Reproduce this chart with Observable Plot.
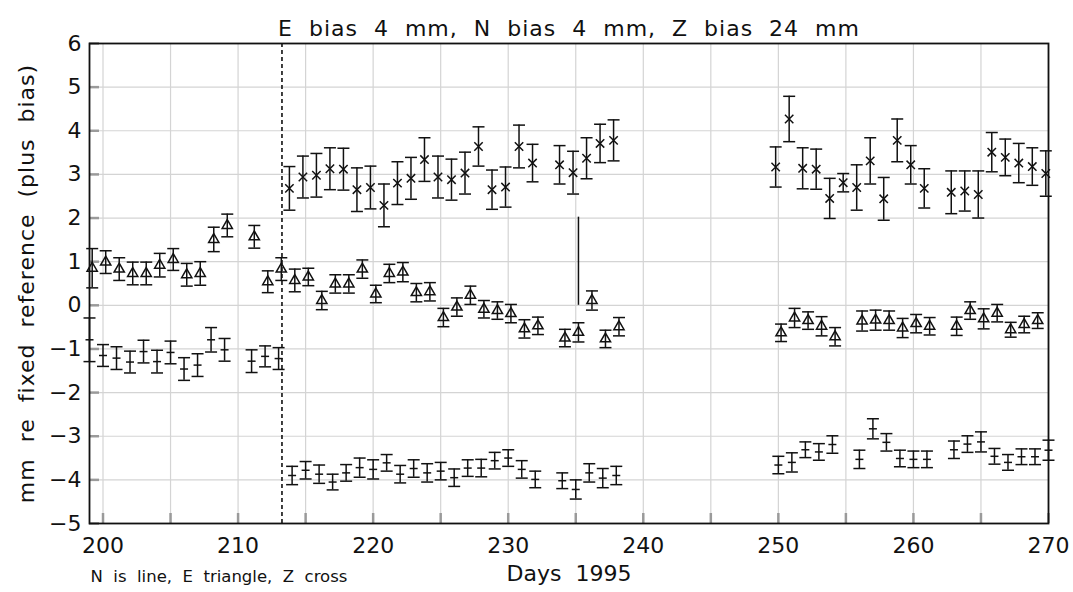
<!DOCTYPE html>
<html>
<head>
<meta charset="utf-8">
<script src="https://cdn.jsdelivr.net/npm/d3@7"></script>
<script src="https://cdn.jsdelivr.net/npm/@observablehq/plot@0.6"></script>
<style>
  html, body { margin: 0; padding: 0; background: #fff; }
  svg text { white-space: pre; }
</style>
</head>
<body>
<div id="chart"></div>
<script>
// ---- data ----
const titleText = "E  bias  4  mm,  N  bias  4  mm,  Z  bias  24  mm";
const xLabel = "Days  1995";
const yLabel = "mm  re  fixed  reference  (plus  bias)";
const caption = "N  is  line,  E  triangle,  Z  cross";

const xTicks = [200, 210, 220, 230, 240, 250, 260, 270];
const yTicks = [-5, -4, -3, -2, -1, 0, 1, 2, 3, 4, 5, 6];
const gridDays = [200, 205, 210, 215, 220, 225, 230, 235, 240, 245, 250, 255, 260, 265, 270];

// N (line marker)
const nDays = [199,200,201,202,203,204,205,206,207,208,209,211,212,213,214,215,216,217,218,219,220,221,222,223,224,225,226,227,228,229,230,231,232,234,235,236,237,238,250,251,252,253,254,256,257,258,259,260,261,263,264,265,266,267,268,269,270];
const nVal  = [-0.79,-1.15,-1.21,-1.30,-1.06,-1.29,-1.08,-1.46,-1.37,-0.79,-1.02,-1.28,-1.17,-1.22,-3.90,-3.78,-3.87,-4.05,-3.84,-3.72,-3.76,-3.61,-3.87,-3.74,-3.84,-3.80,-3.95,-3.73,-3.73,-3.56,-3.50,-3.76,-3.99,-4.02,-4.22,-3.84,-3.96,-3.90,-3.66,-3.60,-3.31,-3.36,-3.19,-3.53,-2.83,-3.14,-3.51,-3.53,-3.53,-3.31,-3.18,-3.13,-3.46,-3.60,-3.47,-3.47,-3.32];
const nErr  = [0.50,0.25,0.26,0.25,0.26,0.26,0.26,0.26,0.26,0.28,0.26,0.26,0.24,0.25,0.21,0.20,0.21,0.18,0.19,0.22,0.22,0.19,0.20,0.20,0.21,0.20,0.20,0.19,0.20,0.19,0.19,0.20,0.19,0.18,0.22,0.21,0.22,0.21,0.20,0.22,0.18,0.19,0.20,0.21,0.23,0.20,0.19,0.19,0.19,0.20,0.19,0.23,0.18,0.18,0.18,0.18,0.23];

// E (triangle marker)
const eDays = [199,200,201,202,203,204,205,206,207,208,209,211,212,213,214,215,216,217,218,219,220,221,222,223,224,225,226,227,228,229,230,231,232,234,235,236,237,238,250,251,252,253,254,256,257,258,259,260,261,263,264,265,266,267,268,269];
const eVal  = [0.85,0.99,0.83,0.73,0.73,0.92,1.05,0.70,0.73,1.51,1.83,1.57,0.54,0.83,0.57,0.65,0.11,0.49,0.49,0.83,0.26,0.73,0.76,0.29,0.31,-0.28,-0.04,0.23,-0.09,-0.12,-0.19,-0.54,-0.47,-0.75,-0.62,0.11,-0.77,-0.49,-0.63,-0.29,-0.35,-0.48,-0.72,-0.36,-0.34,-0.35,-0.52,-0.42,-0.48,-0.48,-0.12,-0.31,-0.18,-0.56,-0.44,-0.35];
const eErr  = [0.45,0.26,0.26,0.26,0.26,0.27,0.25,0.26,0.27,0.28,0.26,0.26,0.25,0.26,0.26,0.20,0.21,0.21,0.21,0.21,0.20,0.21,0.22,0.21,0.21,0.21,0.21,0.21,0.20,0.20,0.21,0.21,0.20,0.20,0.22,0.22,0.20,0.21,0.20,0.22,0.20,0.22,0.21,0.23,0.23,0.22,0.22,0.21,0.20,0.21,0.20,0.23,0.20,0.17,0.19,0.18];

// Z (cross marker)
const zDays = [214,215,216,217,218,219,220,221,222,223,224,225,226,227,228,229,230,231,232,234,235,236,237,238,250,251,252,253,254,255,256,257,258,259,260,261,263,264,265,266,267,268,269,270];
const zVal  = [2.68,2.94,2.98,3.13,3.12,2.65,2.70,2.29,2.80,2.91,3.34,2.94,2.88,3.03,3.64,2.65,2.71,3.64,3.26,3.22,3.04,3.37,3.71,3.78,3.17,4.27,3.14,3.12,2.45,2.81,2.70,3.31,2.44,3.78,3.22,2.68,2.59,2.62,2.54,3.51,3.39,3.26,3.18,3.02];
const zErr  = [0.50,0.48,0.50,0.48,0.48,0.50,0.49,0.49,0.49,0.48,0.50,0.48,0.47,0.48,0.45,0.45,0.46,0.49,0.43,0.44,0.49,0.47,0.44,0.47,0.46,0.52,0.47,0.46,0.46,0.21,0.52,0.53,0.49,0.49,0.44,0.45,0.49,0.46,0.54,0.45,0.42,0.45,0.43,0.52];

// reference-change marker and isolated spike
const changeDay = [213.25];
const spikeDay = [235.2];
const spikeFrom = [0];
const spikeTo = [2.02];

// ---- build tables ----
const table = (days, vals, errs) => days.map((d, i) => ({day: d, v: vals[i], lo: vals[i] - errs[i], hi: vals[i] + errs[i]}));
const N = table(nDays, nVal, nErr);
const E = table(eDays, eVal, eErr);
const Z = table(zDays, zVal, zErr);
const spike = spikeDay.map((d, i) => ({day: d, y1: spikeFrom[i], y2: spikeTo[i]}));

const hline = {draw(ctx, size) { const r = Math.sqrt(size / Math.PI); ctx.moveTo(-r, 0); ctx.lineTo(r, 0); }};
const cross = {draw(ctx, size) { const r = Math.sqrt(size / Math.PI); ctx.moveTo(-r, -r); ctx.lineTo(r, r); ctx.moveTo(-r, r); ctx.lineTo(r, -r); }};

const FONT = "DejaVu Sans, sans-serif";
const ink = "#111";
const sw = 1.5;

function errorMarks(data, dx, symbol, r) {
  return [
    Plot.ruleX(data, {x: "day", y1: "lo", y2: "hi", dx, stroke: ink, strokeWidth: sw}),
    Plot.dot(data, {x: "day", y: "hi", dx, symbol: hline, r: 6, stroke: ink, fill: "none", strokeWidth: sw}),
    Plot.dot(data, {x: "day", y: "lo", dx, symbol: hline, r: 6, stroke: ink, fill: "none", strokeWidth: sw}),
    Plot.dot(data, {x: "day", y: "v", dx, symbol, r, stroke: ink, fill: "none", strokeWidth: sw})
  ];
}

const chart = Plot.plot({
  width: 1073,
  height: 592,
  marginLeft: 89,
  marginRight: 25,
  marginTop: 43,
  marginBottom: 69,
  style: {fontFamily: FONT, background: "white", color: ink},
  x: {domain: [199, 270]},
  y: {domain: [-5, 6]},
  marks: [
    Plot.gridX(gridDays, {stroke: "#d4d4d4", strokeOpacity: 1, strokeWidth: 1.2}),
    Plot.gridY(yTicks, {stroke: "#d4d4d4", strokeOpacity: 1, strokeWidth: 1.2}),
    Plot.axisX(gridDays, {tickSize: -10, tickFormat: () => "", stroke: "#9a9a9a", strokeWidth: 2.5, label: null}),
    Plot.axisY(yTicks, {tickSize: -10, tickFormat: () => "", stroke: "#9a9a9a", strokeWidth: 2.5, label: null}),
    Plot.axisX(xTicks, {tickSize: 0, tickPadding: 14, fontSize: 22, label: null}),
    Plot.axisY(yTicks, {tickSize: 0, tickPadding: 8, fontSize: 22, label: null}),
    Plot.ruleX(changeDay, {stroke: ink, strokeWidth: 1.6, strokeDasharray: "4,3"}),
    Plot.ruleX(spike, {x: "day", y1: "y1", y2: "y2", stroke: ink, strokeWidth: sw}),
    ...errorMarks(N, 0, hline, 4),
    ...errorMarks(E, 2.7, "triangle", 3.8),
    ...errorMarks(Z, -2.7, cross, 4.2),
    Plot.frame({stroke: ink, strokeWidth: 1.8}),
    Plot.text([titleText], {frameAnchor: "top", dy: -23, fontSize: 22, fill: ink}),
    Plot.text([xLabel], {frameAnchor: "bottom", dy: 57, fontSize: 22, fill: ink}),
    Plot.text([yLabel], {frameAnchor: "left", textAnchor: "middle", rotate: -90, dx: -63, fontSize: 22, fill: ink}),
    Plot.text([caption], {frameAnchor: "bottom-left", textAnchor: "start", dx: 1, dy: 58, fontSize: 16.5, fill: ink})
  ]
});
// letter spacing for the long labels (the reference font is wider)
d3.select(chart).selectAll("text").each(function() {
  const t = this.textContent;
  if (t === titleText) this.style.letterSpacing = "1px";
  if (t === yLabel) this.style.letterSpacing = "1px";
});
document.getElementById("chart").appendChild(chart);
</script>
</body>
</html>
